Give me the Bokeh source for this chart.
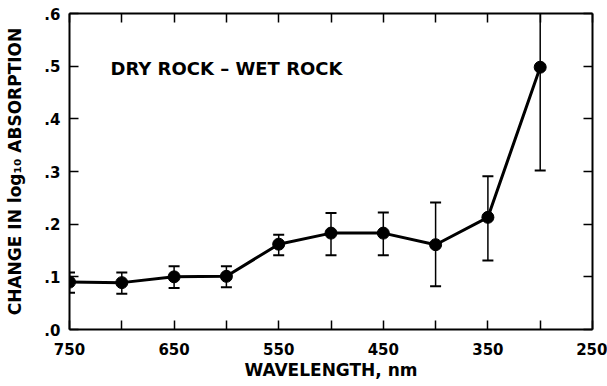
from bokeh.plotting import figure
from bokeh.models import Range1d, FixedTicker, LinearAxis, Label, ColumnDataSource
from bokeh.embed import file_html
from bokeh.resources import INLINE

# ---- data ----
wavelength = [750, 700, 650, 600, 550, 500, 450, 400, 350, 300]
change = [0.090, 0.089, 0.100, 0.101, 0.162, 0.183, 0.183, 0.161, 0.213, 0.498]
err_upper = [0.108, 0.108, 0.120, 0.120, 0.180, 0.221, 0.222, 0.241, 0.291, 0.640]
err_lower = [0.070, 0.068, 0.079, 0.080, 0.141, 0.141, 0.141, 0.082, 0.131, 0.302]

x_ticks = [750, 700, 650, 600, 550, 500, 450, 400, 350, 300, 250]
x_tick_labels = ["750", "", "650", "", "550", "", "450", "", "350", "", "250"]
y_ticks = [0.0, 0.1, 0.2, 0.3, 0.4, 0.5, 0.6]
y_tick_labels = [".0", ".1", ".2", ".3", ".4", ".5", ".6"]

title_text = "DRY ROCK \u2013 WET ROCK"
x_label = "WAVELENGTH, nm"
y_label = "CHANGE IN log\u2081\u2080 ABSORPTION"

FONT = "DejaVu Sans"

src = ColumnDataSource(dict(x=wavelength, y=change, up=err_upper, lo=err_lower))

p = figure(width=607, height=386, output_backend="svg", toolbar_location=None,
           x_range=Range1d(750, 250), y_range=Range1d(0, 0.6),
           x_axis_location=None, y_axis_location=None,
           min_border_left=69, min_border_right=15, min_border_top=13, min_border_bottom=57)
p.outline_line_color = None
p.grid.visible = False
p.background_fill_color = "white"
p.border_fill_color = "white"

def style_axis(ax, show_labels):
    ax.axis_line_width = 2
    ax.axis_line_color = "black"
    ax.major_tick_in = 9
    ax.major_tick_out = 0
    ax.major_tick_line_width = 1.5
    ax.minor_tick_line_color = None
    if not show_labels:
        ax.major_label_text_font_size = "0px"
        ax.major_label_text_color = None
    else:
        ax.major_label_text_font = FONT
        ax.major_label_text_font_style = "bold"
        ax.major_label_text_font_size = "15px"
        ax.major_label_text_color = "black"
        ax.axis_label_text_font = FONT
        ax.axis_label_text_font_style = "bold"
        ax.axis_label_text_font_size = "17px"
        ax.axis_label_text_color = "black"

bottom = LinearAxis(ticker=FixedTicker(ticks=x_ticks), axis_label=x_label)
bottom.major_label_overrides = {t: l for t, l in zip(x_ticks, x_tick_labels)}
style_axis(bottom, True)
bottom.major_label_standoff = 13
bottom.axis_label_standoff = 2
p.add_layout(bottom, "below")

left = LinearAxis(ticker=FixedTicker(ticks=y_ticks), axis_label=y_label)
left.major_label_overrides = {t: l for t, l in zip(y_ticks, y_tick_labels)}
style_axis(left, True)
left.major_label_standoff = 9
left.axis_label_standoff = 16
p.add_layout(left, "left")

top = LinearAxis(ticker=FixedTicker(ticks=x_ticks))
style_axis(top, False)
top.major_label_standoff = 0
p.add_layout(top, "above")

right = LinearAxis(ticker=FixedTicker(ticks=y_ticks))
style_axis(right, False)
right.major_label_standoff = 0
p.add_layout(right, "right")

# error bars
p.segment(x0="x", y0="lo", x1="x", y1="up", source=src, line_color="black", line_width=1.5)
p.scatter(x="x", y="up", source=src, marker="dash", size=11, line_color="black", line_width=2)
p.scatter(x="x", y="lo", source=src, marker="dash", size=11, line_color="black", line_width=2)
# data line and points
p.line(x="x", y="y", source=src, line_color="black", line_width=3)
p.scatter(x="x", y="y", source=src, marker="circle", size=12, fill_color="black", line_color="black")

# in-plot annotation
p.add_layout(Label(x=41, y=261, x_units="screen", y_units="screen", text=title_text,
                   text_font=FONT, text_font_style="bold", text_font_size="18px",
                   text_color="black", text_baseline="alphabetic"))

open("out.html", "w").write(file_html(p, INLINE))
